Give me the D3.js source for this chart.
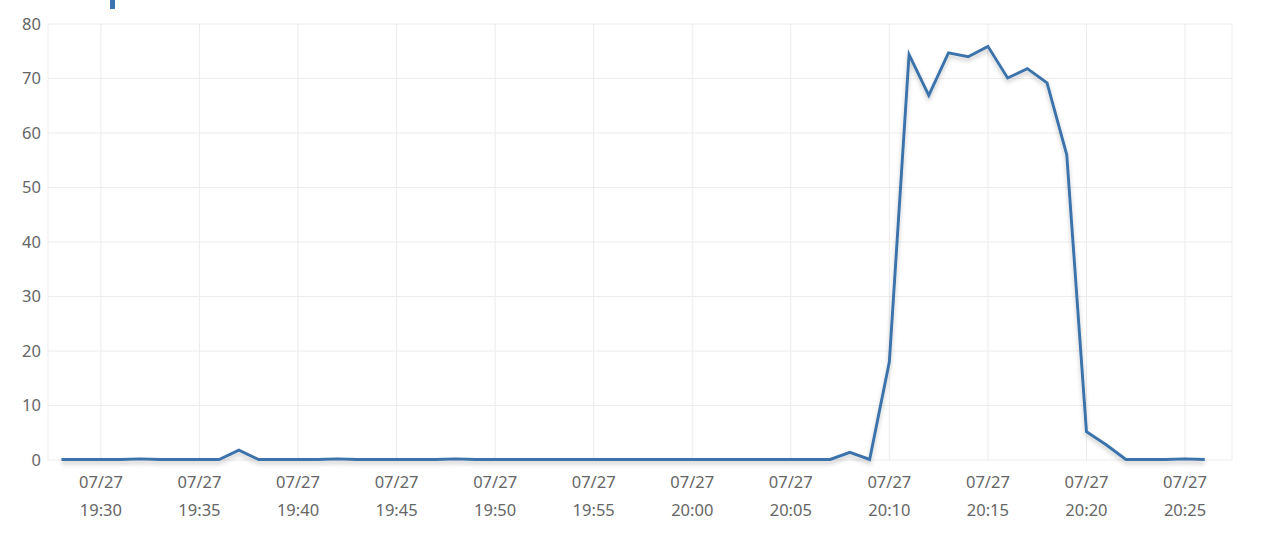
<!DOCTYPE html>
<html>
<head>
<meta charset="utf-8">
<script src="https://cdn.jsdelivr.net/npm/d3@7"></script>
<style>
  html, body { margin: 0; padding: 0; background: #fff; }
  svg { display: block; }
  text { font-family: "Noto Sans", "Open Sans", sans-serif; }
</style>
</head>
<body>
<svg id="chart" width="1280" height="556"></svg>
<script>
// ---- data ----
const times = [
  "19:28","19:29","19:30","19:31","19:32","19:33","19:34","19:35","19:36","19:37",
  "19:38","19:39","19:40","19:41","19:42","19:43","19:44","19:45","19:46","19:47",
  "19:48","19:49","19:50","19:51","19:52","19:53","19:54","19:55","19:56","19:57",
  "19:58","19:59","20:00","20:01","20:02","20:03","20:04","20:05","20:06","20:07",
  "20:08","20:09","20:10","20:11","20:12","20:13","20:14","20:15","20:16","20:17",
  "20:18","20:19","20:20","20:21","20:22","20:23","20:24","20:25","20:26"
];
const values = [
  0.1, 0.1, 0.1, 0.1, 0.2, 0.1, 0.1, 0.1, 0.1, 1.8,
  0.1, 0.1, 0.1, 0.1, 0.2, 0.1, 0.1, 0.1, 0.1, 0.1,
  0.2, 0.1, 0.1, 0.1, 0.1, 0.1, 0.1, 0.1, 0.1, 0.1,
  0.1, 0.1, 0.1, 0.1, 0.1, 0.1, 0.1, 0.1, 0.1, 0.1,
  1.4, 0.1, 18.0, 74.4, 66.9, 74.7, 74.0, 75.9, 70.1, 71.8,
  69.2, 56.0, 5.2, 2.8, 0.1, 0.1, 0.1, 0.2, 0.1
];
const xTickTimes = ["19:30","19:35","19:40","19:45","19:50","19:55","20:00","20:05","20:10","20:15","20:20","20:25"];
const yTicks = [0, 10, 20, 30, 40, 50, 60, 70, 80];
const dateLabel = "07/27";

// ---- setup ----
const toDate = t => new Date("2023-07-27T" + t + ":00");
const data = times.map((t, i) => ({ t: toDate(t), v: values[i] }));

const plot = { left: 48, right: 1232, top: 24, bottom: 460 };

const x = d3.scaleTime()
  .domain([new Date("2023-07-27T19:27:19"), new Date("2023-07-27T20:27:23")])
  .range([plot.left, plot.right]);
const y = d3.scaleLinear().domain([0, 80]).range([plot.bottom, plot.top]);

const svg = d3.select("#chart");

const defs = svg.append("defs");
const f = defs.append("filter").attr("id", "shadow")
  .attr("x", "-5%").attr("y", "-5%").attr("width", "110%").attr("height", "120%");
f.append("feDropShadow").attr("dx", 0).attr("dy", 3).attr("stdDeviation", 2)
  .attr("flood-color", "#000").attr("flood-opacity", 0.22);

// top marker (cut-off legend/title icon)
svg.append("rect").attr("x", 110).attr("y", 0).attr("width", 5).attr("height", 9)
  .attr("fill", "#3a76ad");

// grid: horizontal
const gridColor = "#ececec";
svg.append("g").selectAll("line").data(yTicks).join("line")
  .attr("x1", plot.left).attr("x2", plot.right)
  .attr("y1", d => y(d)).attr("y2", d => y(d))
  .attr("stroke", gridColor).attr("stroke-width", 1);

// grid: vertical
const xTicks = xTickTimes.map(toDate);
svg.append("g").selectAll("line").data(xTicks).join("line")
  .attr("x1", d => x(d)).attr("x2", d => x(d))
  .attr("y1", plot.top).attr("y2", plot.bottom)
  .attr("stroke", gridColor).attr("stroke-width", 1);

// border left/right
svg.append("line").attr("x1", plot.left).attr("x2", plot.left).attr("y1", plot.top).attr("y2", plot.bottom)
  .attr("stroke", gridColor);
svg.append("line").attr("x1", plot.right).attr("x2", plot.right).attr("y1", plot.top).attr("y2", plot.bottom)
  .attr("stroke", gridColor);

// y axis labels
svg.append("g").selectAll("text").data(yTicks).join("text")
  .attr("x", 41).attr("y", d => y(d))
  .attr("dy", "0.35em")
  .attr("text-anchor", "end")
  .attr("font-size", 16.5)
  .attr("fill", "#666")
  .text(d => d);

// x axis labels
const fmt = d3.timeFormat("%H:%M");
const xl = svg.append("g").selectAll("g").data(xTicks).join("g")
  .attr("transform", d => `translate(${x(d)},0)`);
xl.append("text").attr("y", 488).attr("text-anchor", "middle")
  .attr("font-size", 16.5).attr("fill", "#666").text(dateLabel);
xl.append("text").attr("y", 516).attr("text-anchor", "middle")
  .attr("font-size", 16.5).attr("fill", "#666").text(d => fmt(d));

// line
const line = d3.line().x(d => x(d.t)).y(d => y(d.v));
svg.append("path").datum(data)
  .attr("d", line)
  .attr("fill", "none")
  .attr("stroke", "#3b73aa")
  .attr("stroke-width", 2.9)
  .attr("stroke-linejoin", "miter")
  .attr("filter", "url(#shadow)");
</script>
</body>
</html>
